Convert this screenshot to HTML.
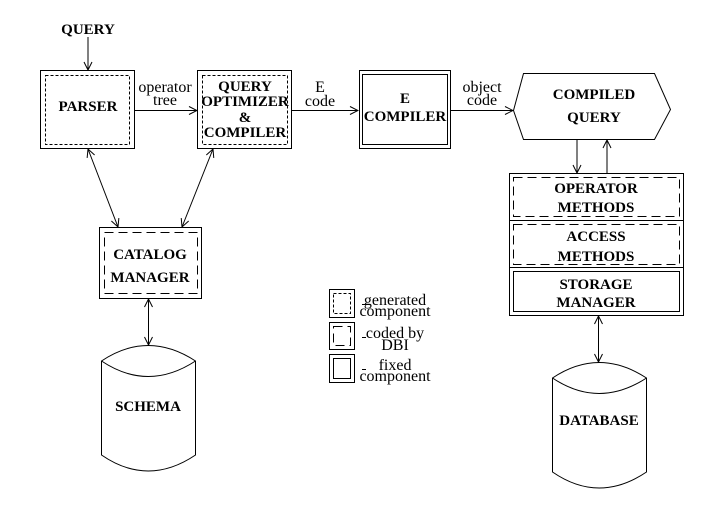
<!DOCTYPE html>
<html><head><meta charset="utf-8"><style>
html,body{margin:0;padding:0;background:#fff;}
svg{display:block;}
text{font-family:"Liberation Serif","Times New Roman",serif;fill:#000;}
.b{font-weight:bold;font-size:15px;}
.n{font-size:16px;}
</style></head><body>
<svg width="721" height="510" viewBox="0 0 721 510" xmlns="http://www.w3.org/2000/svg">
<defs>
<marker id="ah" markerWidth="10" markerHeight="10" refX="9" refY="5" orient="auto-start-reverse" markerUnits="userSpaceOnUse">
<path d="M1,1 L9,5 L1,9" fill="none" stroke="#000" stroke-width="1"/>
</marker>
</defs>
<g fill="none" stroke="#000" stroke-width="1">
<rect x="40.5" y="70.5" width="94" height="78"/>
<rect x="45.5" y="75.5" width="84" height="69" stroke-dasharray="3,2"/>
<rect x="197.5" y="70.5" width="94" height="78"/>
<rect x="202.5" y="75.5" width="85" height="69" stroke-dasharray="3,2"/>
<rect x="359.5" y="70.5" width="91" height="78"/>
<rect x="362.5" y="74.5" width="85" height="70"/>
<polygon points="523.5,73.5 654.5,73.5 670.5,109.5 654.5,139.5 523.5,139.5 513.5,110.5"/>
<rect x="509.5" y="173.5" width="174" height="142"/>
<line x1="509" y1="220.5" x2="683" y2="220.5"/>
<line x1="509" y1="267.5" x2="683" y2="267.5"/>
<rect x="513.5" y="177.5" width="166" height="39" stroke-dasharray="9,5"/>
<rect x="513.5" y="224.5" width="166" height="40" stroke-dasharray="9,5"/>
<rect x="513.5" y="271.5" width="166" height="40"/>
<rect x="99.5" y="227.5" width="102" height="71"/>
<rect x="104.5" y="232.5" width="93" height="61" stroke-dasharray="9,5"/>
<path d="M101.5,361 Q148,330 195.5,361 L195.5,455 Q148,487 101.5,455 Z"/>
<path d="M101.5,361 Q148,392 195.5,361"/>
<path d="M552.5,378 Q599,347 646.5,378 L646.5,472 Q599,504 552.5,472 Z"/>
<path d="M552.5,378 Q599,409 646.5,378"/>
<rect x="329.5" y="289.5" width="25" height="28"/>
<rect x="333.5" y="293.5" width="17" height="20" stroke-dasharray="3,2"/>
<rect x="329.5" y="322.5" width="25" height="27"/>
<rect x="333.5" y="326.5" width="17" height="19" stroke-dasharray="9,5"/>
<rect x="329.5" y="354.5" width="25" height="28"/>
<rect x="333.5" y="358.5" width="17" height="20"/>
<line x1="362" y1="304.5" x2="366" y2="304.5"/>
<line x1="362" y1="337.5" x2="366" y2="337.5"/>
<line x1="362" y1="369.5" x2="366" y2="369.5"/>
<line x1="88" y1="37" x2="88" y2="70" marker-end="url(#ah)"/>
<line x1="135" y1="110.5" x2="197" y2="110.5" marker-end="url(#ah)"/>
<line x1="292" y1="110.5" x2="358" y2="110.5" marker-end="url(#ah)"/>
<line x1="451" y1="110.5" x2="513" y2="110.5" marker-end="url(#ah)"/>
<line x1="577" y1="140" x2="577" y2="173" marker-end="url(#ah)"/>
<line x1="607" y1="173" x2="607" y2="140" marker-end="url(#ah)"/>
<line x1="88" y1="149" x2="118" y2="227" marker-start="url(#ah)" marker-end="url(#ah)"/>
<line x1="213" y1="149" x2="182" y2="227" marker-start="url(#ah)" marker-end="url(#ah)"/>
<line x1="148.5" y1="299" x2="148.5" y2="345" marker-start="url(#ah)" marker-end="url(#ah)"/>
<line x1="598.5" y1="316" x2="598.5" y2="362" marker-start="url(#ah)" marker-end="url(#ah)"/>
</g>
<g text-anchor="middle">
<text class="b" x="88" y="34">QUERY</text>
<text class="b" x="88" y="111">PARSER</text>
<text class="n" x="165" y="92">operator</text>
<text class="n" x="165" y="105">tree</text>
<text class="b" x="245" y="91">QUERY</text>
<text class="b" x="245" y="106">OPTIMIZER</text>
<text class="b" x="245" y="122">&amp;</text>
<text class="b" x="245" y="137">COMPILER</text>
<text class="n" x="320" y="92">E</text>
<text class="n" x="320" y="106">code</text>
<text class="b" x="405" y="103">E</text>
<text class="b" x="405" y="121">COMPILER</text>
<text class="n" x="482" y="92">object</text>
<text class="n" x="482" y="105">code</text>
<text class="b" x="594" y="99">COMPILED</text>
<text class="b" x="594" y="122">QUERY</text>
<text class="b" x="596" y="193">OPERATOR</text>
<text class="b" x="596" y="212">METHODS</text>
<text class="b" x="596" y="241">ACCESS</text>
<text class="b" x="596" y="261">METHODS</text>
<text class="b" x="596" y="289">STORAGE</text>
<text class="b" x="596" y="307">MANAGER</text>
<text class="b" x="150" y="259">CATALOG</text>
<text class="b" x="150" y="282">MANAGER</text>
<text class="b" x="148" y="411">SCHEMA</text>
<text class="b" x="599" y="425">DATABASE</text>
<text class="n" x="395" y="305">generated</text>
<text class="n" x="395" y="316">component</text>
<text class="n" x="395" y="338">coded by</text>
<text class="n" x="395" y="350">DBI</text>
<text class="n" x="395" y="370">fixed</text>
<text class="n" x="395" y="381">component</text>
</g>
</svg>
</body></html>
